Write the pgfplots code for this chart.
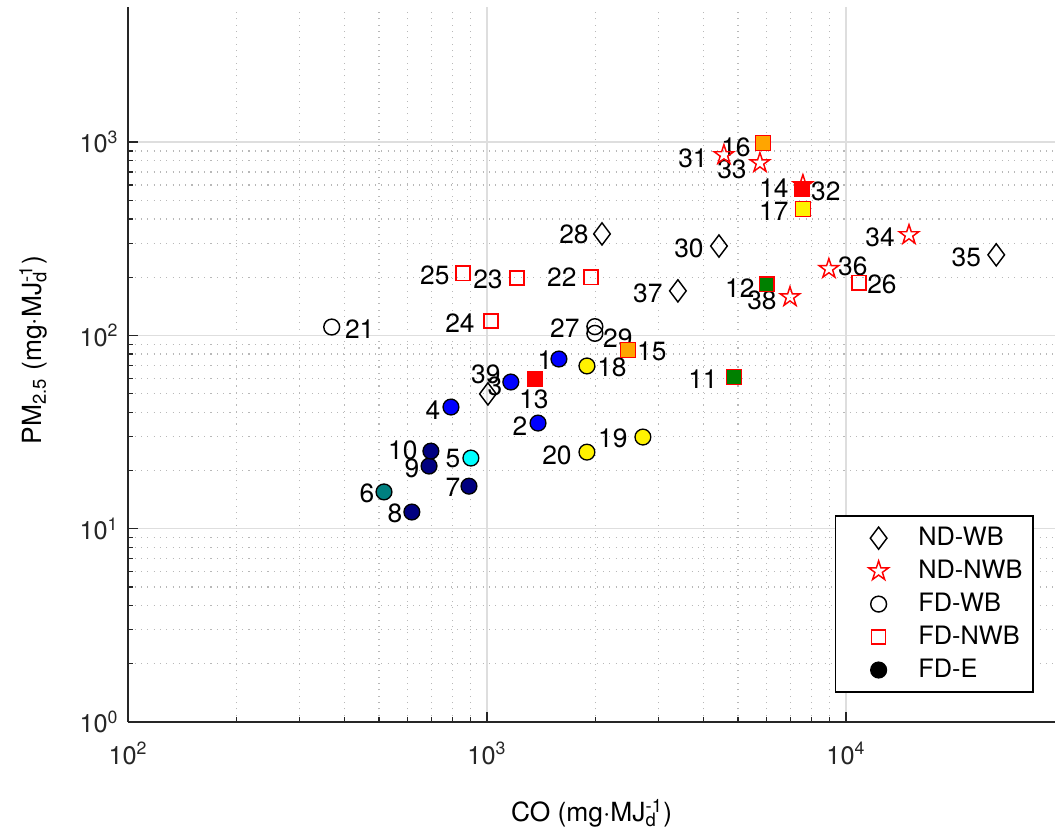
\documentclass[border=0pt]{standalone}
\usepackage{fontspec}
\setmainfont{TeX Gyre Heros}
\usepackage{pgfplots}
\pgfplotsset{compat=1.18}
\usetikzlibrary{plotmarks}
\definecolor{axgray}{HTML}{262626}
\definecolor{navyc}{HTML}{000080}
\definecolor{tealc}{HTML}{008080}
\definecolor{cyanc}{HTML}{00FFFF}
\definecolor{orangec}{HTML}{FFA500}
\definecolor{greenc}{HTML}{008000}
\newcommand\MJd{MJ\rlap{\textsubscript{d}}\textsuperscript{-1}}
% five-pointed star outline (MATLAB pentagram)
\pgfdeclareplotmark{pentagram}{%
  \pgfpathmoveto{\pgfpointpolar{90}{\pgfplotmarksize}}%
  \pgfpathlineto{\pgfpointpolar{126}{0.382\pgfplotmarksize}}%
  \pgfpathlineto{\pgfpointpolar{162}{\pgfplotmarksize}}%
  \pgfpathlineto{\pgfpointpolar{198}{0.382\pgfplotmarksize}}%
  \pgfpathlineto{\pgfpointpolar{234}{\pgfplotmarksize}}%
  \pgfpathlineto{\pgfpointpolar{270}{0.382\pgfplotmarksize}}%
  \pgfpathlineto{\pgfpointpolar{306}{\pgfplotmarksize}}%
  \pgfpathlineto{\pgfpointpolar{342}{0.382\pgfplotmarksize}}%
  \pgfpathlineto{\pgfpointpolar{18}{\pgfplotmarksize}}%
  \pgfpathlineto{\pgfpointpolar{54}{0.382\pgfplotmarksize}}%
  \pgfpathclose
  \pgfusepathqstroke
}
% point labels: {x,y}{dx px}{dy px}{text}
\newcommand\lab[4]{\node[font=\fontsize{10}{12}\selectfont,inner sep=0pt,xshift={(#2)*0.3791pt},yshift={(#3)*0.3791pt}] at (axis cs:#1) {#4};}

\begin{document}
\begin{tikzpicture}
\begin{axis}[
  xmode=log, ymode=log,
  scale only axis, width=351.4pt, height=271.1pt,
  xmin=100, xmax=38200, ymin=1, ymax=5000,
  axis lines=left, axis line style={-, axgray, line width=0.6pt},
  tick align=inside, major tick length=3.8pt, minor tick length=1.9pt,
  tick style={axgray, line width=0.5pt},
  xtick={100,1000,10000},
  xticklabels={10\textsuperscript{2},10\textsuperscript{3},10\textsuperscript{4}},
  ytick={1,10,100,1000},
  yticklabels={10\textsuperscript{0},10\textsuperscript{1},10\textsuperscript{2},10\textsuperscript{3}},
  tick label style={font=\fontsize{9.6}{11}\selectfont, text=axgray},
  xticklabel style={yshift=-4pt},
  xmajorgrids, ymajorgrids, xminorgrids, yminorgrids,
  major grid style={solid, color=black!13, line width=0.5pt},
  minor grid style={dotted, color=black!28, line width=0.5pt},
  xlabel={CO (mg·\MJd)},
  ylabel={PM\textsubscript{2.5} (mg·\MJd)},
  label style={font=\fontsize{12.5}{14}\selectfont, text=axgray},
  every axis x label/.style={at={(axis description cs:0.5,0)}, anchor=base, yshift=-37.9pt},
  every axis y label/.style={at={(axis description cs:-0.093,0.52)}, rotate=90, anchor=base},
  legend cell align=left,
  legend style={at={(0.977,0.041)}, anchor=south east, draw=black, line width=0.5pt,
    fill=white, font=\fontsize{9.6}{11}\selectfont,
    row sep=0pt, inner xsep=2pt, inner ysep=2.1pt},
  legend image code/.code={\draw[#1] plot coordinates {(0.5cm,0cm)};
    \path[draw=none,fill=none] (0cm,-0.1cm) rectangle (0.96cm,0.1cm);},
]
\coordinate (bl) at (rel axis cs:0,0);
\coordinate (tr) at (rel axis cs:1,1);

% ND-WB
\addplot[only marks, mark=diamond, mark size=4.2pt, mark options={draw=black, fill=none, line width=0.55pt}]
  coordinates {(1005,49.8) (2089,335) (4424,290) (26200,261) (3400,170)};
\addlegendentry{ND-WB}
% ND-NWB
\addplot[only marks, mark=pentagram, mark size=3.9pt, mark options={draw=red, line width=0.55pt}]
  coordinates {(4567,858) (7580,600) (5754,780) (14970,331) (8955,221) (6977,158)};
\addlegendentry{ND-NWB}
% FD-WB
\addplot[only marks, mark=o, mark size=3pt, mark options={draw=black, line width=0.55pt}]
  coordinates {(369,110.5) (1996,111) (1996,102.5)};
\addlegendentry{FD-WB}
% FD-NWB
\addplot[only marks, mark=square, mark size=2.7pt, mark options={draw=red, line width=0.55pt}]
  coordinates {(1946,200) (1211,198) (1025,118.7) (856,210) (10860,187)};
\addlegendentry{FD-NWB}
% FD-E
\addlegendimage{only marks, mark=*, mark size=3pt, mark options={draw=black, fill=black}}
\addlegendentry{FD-E}

% filled circles
\addplot[forget plot, only marks, mark=*, mark size=3pt, mark options={draw=black, fill=blue, line width=0.5pt}]
  coordinates {(1585,75.5) (1386,35.2) (793,42.6) (1164,57.4)};
\addplot[forget plot, only marks, mark=*, mark size=3pt, mark options={draw=black, fill=navyc, line width=0.5pt}]
  coordinates {(890,16.6) (617,12.2) (689,21.1) (697,25.2)};
\addplot[forget plot, only marks, mark=*, mark size=3pt, mark options={draw=black, fill=tealc, line width=0.5pt}]
  coordinates {(516,15.5)};
\addplot[forget plot, only marks, mark=*, mark size=3pt, mark options={draw=black, fill=cyanc, line width=0.5pt}]
  coordinates {(901,23.2)};
\addplot[forget plot, only marks, mark=*, mark size=3pt, mark options={draw=black, fill=yellow, line width=0.5pt}]
  coordinates {(1897,69.5) (2716,29.8) (1897,24.9)};
% filled squares
\addplot[forget plot, only marks, mark=square*, mark size=2.8pt, mark options={draw=red, fill=red, line width=0.55pt}]
  coordinates {(1359,59.5) (7535,572)};
\addplot[forget plot, only marks, mark=square*, mark size=2.8pt, mark options={draw=red, fill=orangec, line width=0.55pt}]
  coordinates {(2466,84) (5868,989)};
\addplot[forget plot, only marks, mark=square*, mark size=2.8pt, mark options={draw=red, fill=yellow, line width=0.55pt}]
  coordinates {(7580,451)};
\addplot[forget plot, only marks, mark=square*, mark size=2.8pt, mark options={draw=red, fill=greenc, line width=0.55pt}]
  coordinates {(4870,61) (6013,184)};

\lab{1585,75.5}{-14}{-1}{1}
\lab{1386,35.2}{-18}{-3}{2}
\lab{1005,49.8}{7}{8}{3}
\lab{793,42.6}{-18}{-3}{4}
\lab{901,23.2}{-18}{0}{5}
\lab{516,15.5}{-17}{-1}{6}
\lab{890,16.6}{-16}{-1}{7}
\lab{617,12.2}{-17}{-1}{8}
\lab{689,21.1}{-17}{-2}{9}
\lab{697,25.2}{-28}{1}{10}
\lab{4870,61}{-31}{-2}{11}
\lab{6013,184}{-27}{-4}{12}
\lab{1359,59.5}{-1}{-20}{13}
\lab{7535,572}{-28}{1}{14}
\lab{2466,84}{24}{-1}{15}
\lab{5868,989}{-27}{-4}{16}
\lab{7580,451}{-29}{-2}{17}
\lab{1897,69.5}{25}{-1}{18}
\lab{2716,29.8}{-30}{-1}{19}
\lab{1897,24.9}{-30}{-3}{20}
\lab{369,110.5}{28}{-2}{21}
\lab{1946,200}{-29}{0}{22}
\lab{1211,198}{-29}{-1}{23}
\lab{1025,118.7}{-31}{-2}{24}
\lab{856,210}{-28}{-2}{25}
\lab{10860,187}{23}{-1}{26}
\lab{1996,111}{-30}{-2}{27}
\lab{2089,335}{-28}{0}{28}
\lab{1996,102.5}{23}{-5}{29}
\lab{4424,290}{-30}{-2}{30}
\lab{4567,858}{-31}{-3}{31}
\lab{7580,600}{23}{-6}{32}
\lab{5754,780}{-28}{-6}{33}
\lab{14970,331}{-29}{-2}{34}
\lab{26200,261}{-30}{-2}{35}
\lab{8955,221}{24}{2}{36}
\lab{3400,170}{-30}{-2}{37}
\lab{6977,158}{-28}{-3}{38}
\lab{1164,57.4}{-25}{8}{39}
\end{axis}
\pgfresetboundingbox
\path[use as bounding box] ([xshift=-48.6pt,yshift=-44.7pt]bl) rectangle ([yshift=2.65pt]tr);
\end{tikzpicture}
\end{document}
